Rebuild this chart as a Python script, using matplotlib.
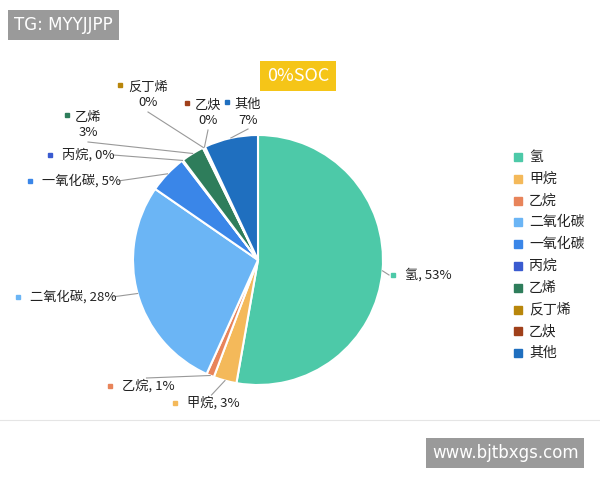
import matplotlib
matplotlib.use("Agg")
import matplotlib.pyplot as plt
import numpy as np

plt.rcParams['font.family'] = ['Noto Sans CJK SC', 'DejaVu Sans']

categories = ['氢', '甲烷', '乙烷', '二氧化碳', '一氧化碳', '丙烷', '乙烯', '反丁烯', '乙炔', '其他']
values = [53, 3, 1, 28, 5, 0.15, 3, 0.15, 0.15, 7]
pct_labels = ['53%', '3%', '1%', '28%', '5%', '0%', '3%', '0%', '0%', '7%']
colors = ['#4DC9A8', '#F4B95A', '#E8845A', '#6BB5F5', '#3A86E8', '#3A5BD0',
          '#2E7D5B', '#B8860B', '#A0401A', '#1F6FBF']

fig = plt.figure(figsize=(6, 4.8), dpi=100)
ax = fig.add_axes([0, 0, 1, 1])

cx, cy, r = 258, 220, 125
wedges, _ = ax.pie(values, colors=colors, startangle=90, counterclock=False,
                   center=(cx, cy), radius=r, frame=True,
                   wedgeprops=dict(edgecolor='white', linewidth=1.5))
ax.set_xlim(0, 600); ax.set_ylim(0, 480); ax.set_aspect('equal'); ax.axis('off')

def text_w(s):
    return sum(12.5 if ord(ch) > 0x2000 else 6.0 for ch in s)

pos = [(405, 275, 'l'), (187, 403, 'l'), (122, 386, 'l'), (30, 297, 'l'), (42, 181, 'l'),
       (62, 155, 'l'), (88, 125, 'c'), (148, 95, 'c'), (208, 113, 'c'), (248, 112, 'c')]
for i, (w, (px, py, mode)) in enumerate(zip(wedges, pos)):
    ang = np.deg2rad((w.theta1 + w.theta2) / 2)
    ex, ey = cx + r * np.cos(ang), cy + r * np.sin(ang)
    y = 480 - py
    if mode == 'l':
        txt = f'{categories[i]}, {pct_labels[i]}'
        ax.text(px, y, txt, fontsize=9.5, va='center', ha='left', color='#222222')
        ax.plot([px - 12], [y], 's', ms=3.5, color=colors[i])
        if px > cx:
            ax.plot([ex, px - 16], [ey, y], color='#999999', lw=0.8)
        elif py > 380:
            ax.plot([ex, px + text_w(txt) / 2], [ey, y + 8], color='#999999', lw=0.8)
        else:
            ax.plot([ex, px + text_w(txt) + 2], [ey, y], color='#999999', lw=0.8)
    else:
        ax.text(px, y + 8, categories[i], fontsize=9.5, va='center', ha='center', color='#222222')
        ax.text(px, y - 8, pct_labels[i], fontsize=9.5, va='center', ha='center', color='#222222')
        ax.plot([px - text_w(categories[i]) / 2 - 9], [y + 10], 's', ms=3.5, color=colors[i])
        ax.plot([ex, px], [ey, y - 17], color='#999999', lw=0.8)

for i, c in enumerate(categories):
    y = 480 - (157 + i * 21.8)
    ax.plot([518], [y], 's', ms=6, color=colors[i])
    ax.text(529, y, c, fontsize=10, va='center', ha='left', color='#222222')

ax.text(298, 480 - 76, '0%SOC', fontsize=13, color='white', ha='center', va='center',
        bbox=dict(boxstyle='square,pad=0.35', fc='#F5C518', ec='none'))
ax.text(14, 480 - 25, 'TG: MYYJJPP', fontsize=12, color='white', ha='left', va='center',
        family='DejaVu Sans', bbox=dict(boxstyle='square,pad=0.35', fc='#9A9A9A', ec='none'))
ax.text(432, 480 - 453, 'www.bjtbxgs.com', fontsize=12, color='white', ha='left', va='center',
        family='DejaVu Sans', bbox=dict(boxstyle='square,pad=0.35', fc='#9A9A9A', ec='none'))
ax.plot([0, 600], [480 - 420, 480 - 420], color='#E5E5E5', lw=0.8)

fig.savefig('out.png', dpi=100)
